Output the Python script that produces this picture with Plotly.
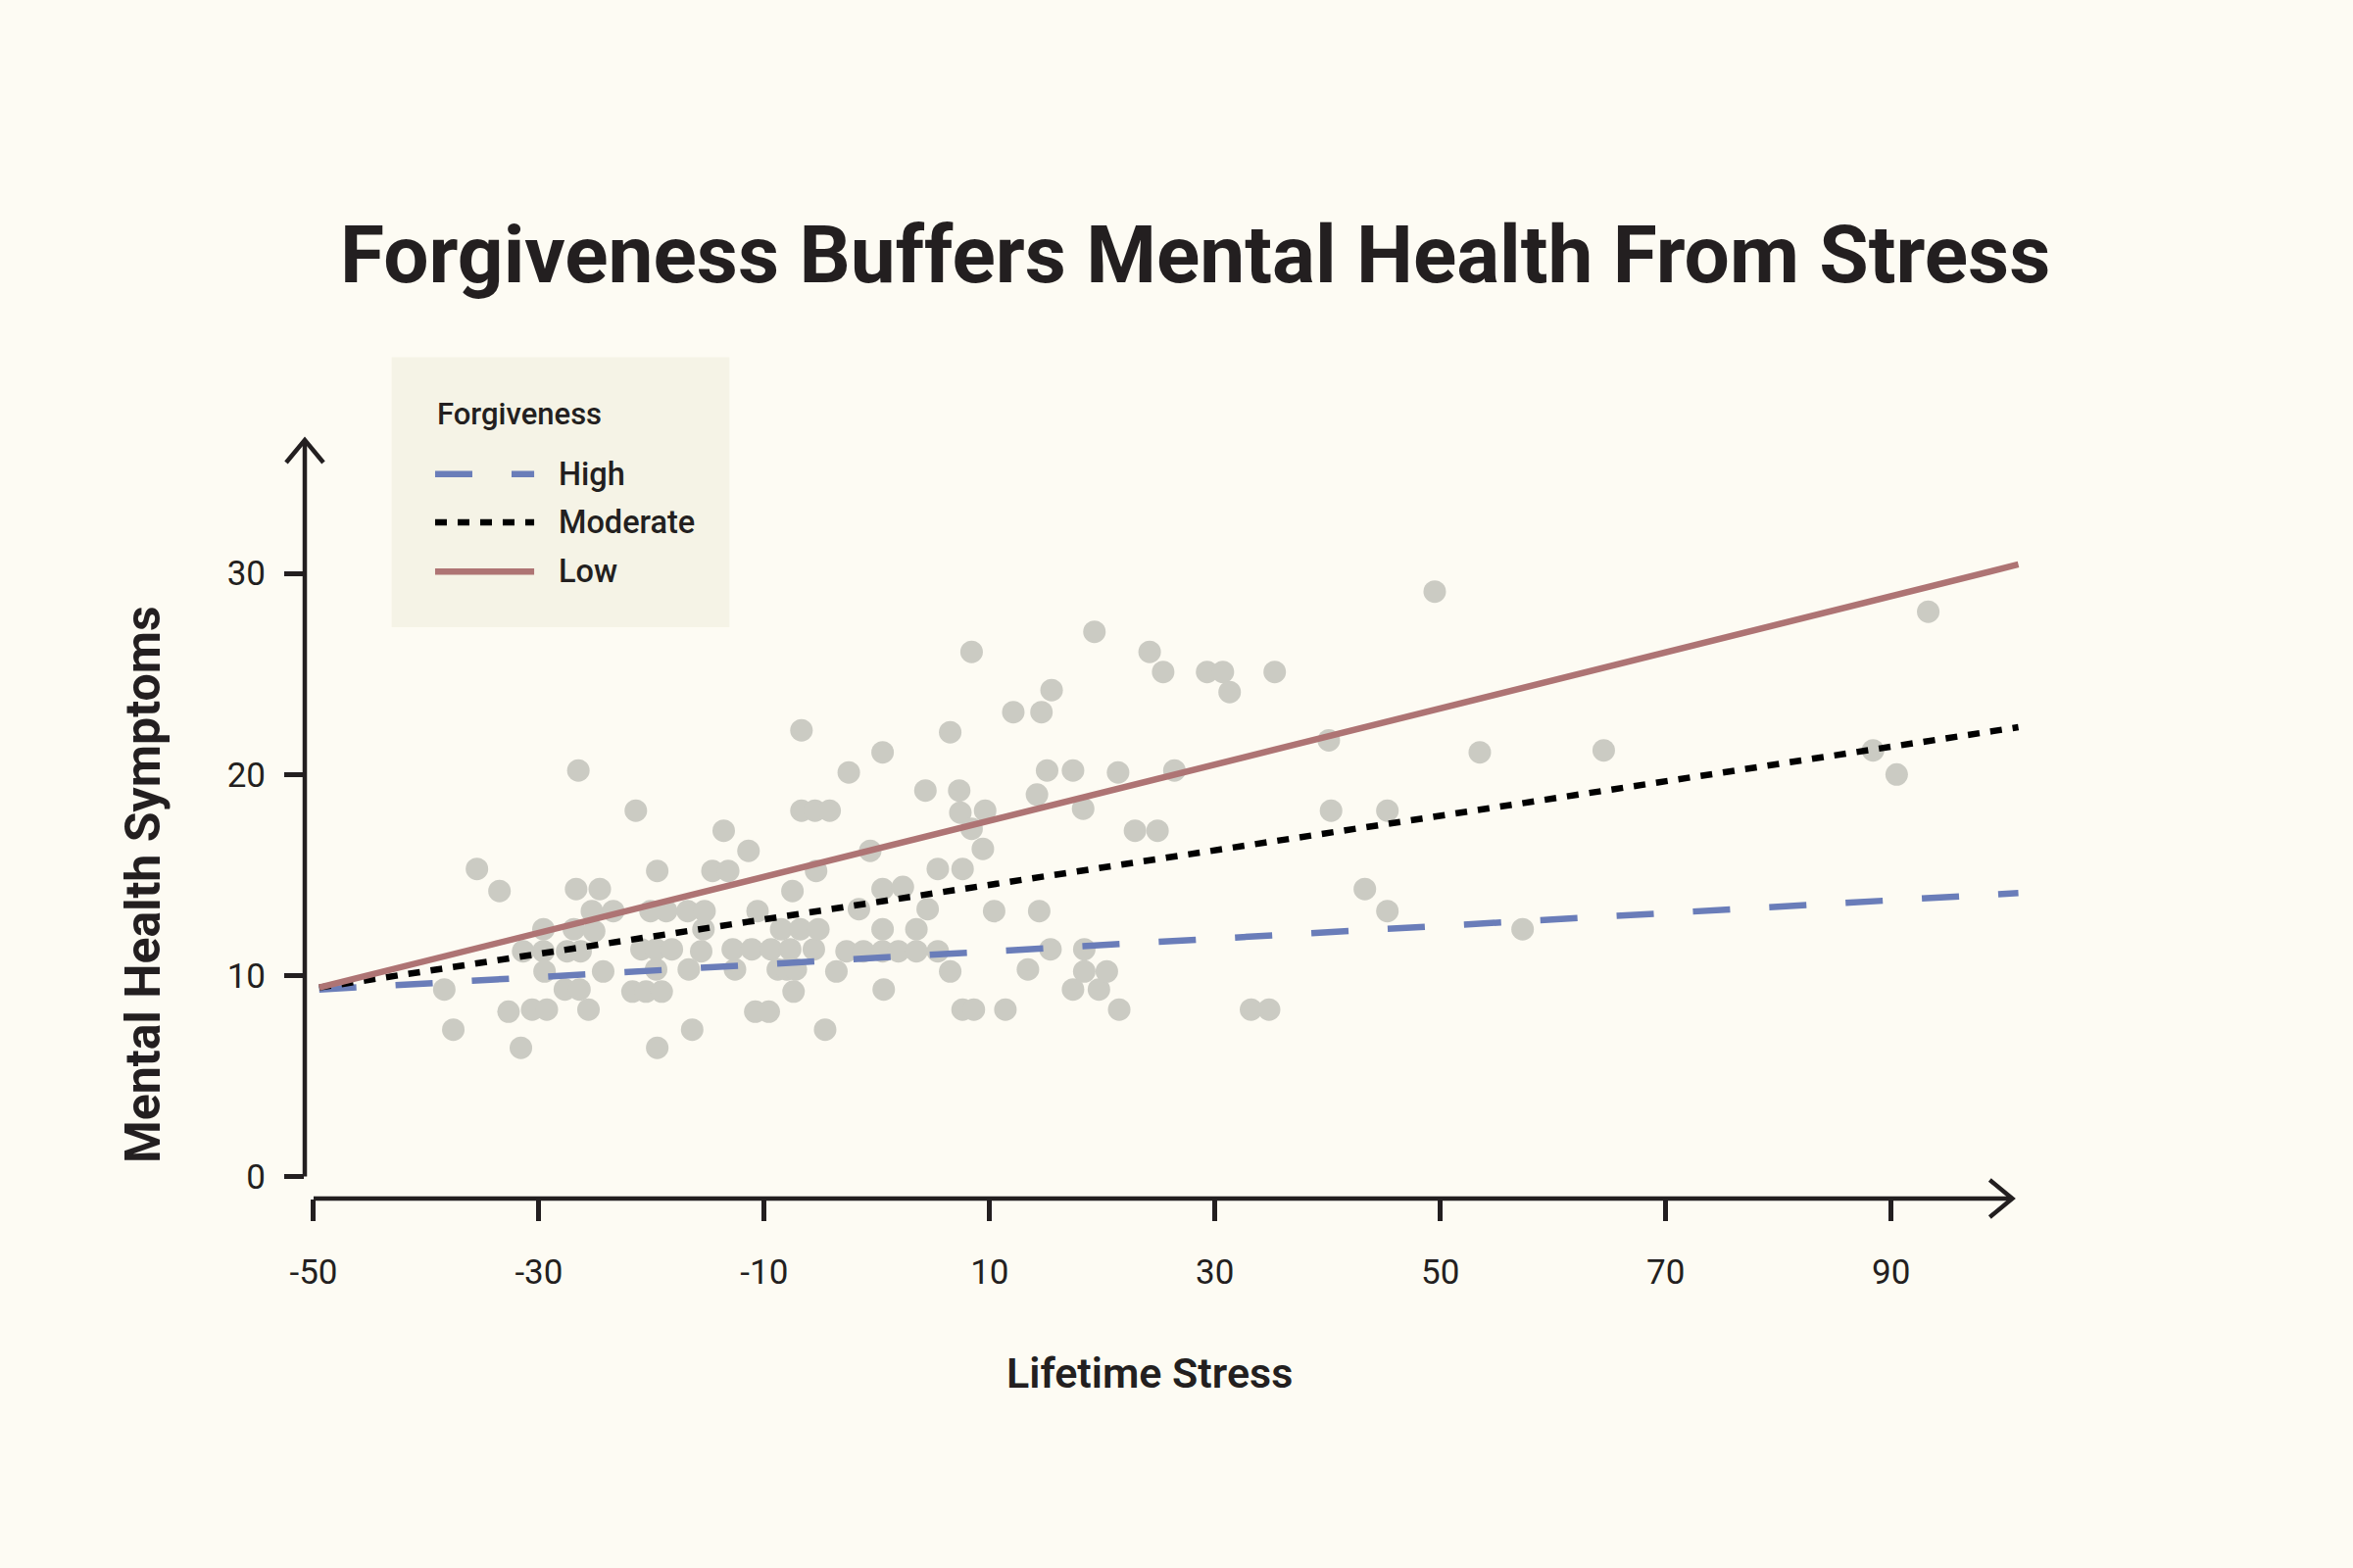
import plotly.graph_objects as go

# Data: lifetime stress vs. mental health symptoms
stress = [
    -38.4, -37.6, -35.5, -33.5, -32.7, -31.6, -31.4, -30.6, -29.6, -29.6,
    -29.5, -29.3, -27.7, -27.5, -26.9, -26.7, -26.5, -26.4, -26.3, -25.6,
    -25.3, -25.1, -24.6, -24.3, -23.4,
    -21.7, -21.4, -20.9, -20.5, -20.1, -19.6, -19.6, -19.5, -19.5, -19.1,
    -18.7, -18.2, -16.8, -16.7, -16.4, -15.6, -15.4, -15.3, -14.6, -13.6,
    -13.2, -12.8, -12.6, -11.4, -11.1, -10.8, -10.6, -9.6, -9.4, -8.8,
    -8.5, -8.0, -7.7, -7.5, -7.4, -7.2, -6.8, -6.7, -5.6, -5.5,
    -5.4, -5.2, -4.6, -4.2, -6.7,
    -3.6, -2.7, -2.5, -1.6, -1.2, -0.6, 0.5, 0.5, 0.5, 0.5,
    0.6, 1.9, 2.3, 3.5, 3.5, 4.3, 4.5, 5.4, 5.4, 6.5,
    6.5, 7.3, 7.4, 7.6, 7.6, 8.4, 8.6, 9.4, 9.6, 10.4,
    11.4, 12.1, 13.4, 8.4,
    14.2, 14.4, 14.6, 15.1, 15.4, 15.5, 17.4, 17.4, 18.3, 18.4,
    18.4, 19.3, 19.7, 20.4, 21.4, 21.5, 22.9, 24.2, 24.9, 25.4,
    26.4, 29.3, 30.7, 31.3, 33.2, 34.8, 35.3,
    40.1, 40.3, 43.3, 45.3, 45.3, 49.5, 53.5, 57.3, 64.5, 88.4,
    90.5, 93.3,
]
symptoms = [
    9.3, 7.3, 15.3, 14.2, 8.2, 6.4, 11.2, 8.3, 12.3, 11.2,
    10.2, 8.3, 9.3, 11.2, 12.3, 14.3, 20.2, 9.3, 11.2, 8.3,
    13.2, 12.2, 14.3, 10.2, 13.2,
    9.2, 18.2, 11.3, 9.2, 13.2, 11.3, 10.3, 15.2, 6.4, 9.2,
    13.2, 11.3, 13.2, 10.3, 7.3, 11.2, 12.3, 13.2, 15.2, 17.2,
    15.2, 11.3, 10.3, 16.2, 11.3, 8.2, 13.2, 8.2, 11.3, 10.3,
    12.3, 10.3, 11.3, 14.2, 9.2, 10.3, 12.3, 18.2, 11.3, 18.2,
    15.2, 12.3, 7.3, 18.2, 22.2,
    10.2, 11.2, 20.1, 13.3, 11.2, 16.2, 21.1, 14.3, 12.3, 11.2,
    9.3, 11.2, 14.4, 12.3, 11.2, 19.2, 13.3, 15.3, 11.2, 22.1,
    10.2, 19.2, 18.1, 15.3, 8.3, 17.3, 8.3, 16.3, 18.2, 13.2,
    8.3, 23.1, 10.3, 26.1,
    19.0, 13.2, 23.1, 20.2, 11.3, 24.2, 20.2, 9.3, 18.3, 11.3,
    10.2, 27.1, 9.3, 10.2, 20.1, 8.3, 17.2, 26.1, 17.2, 25.1,
    20.2, 25.1, 25.1, 24.1, 8.3, 8.3, 25.1,
    21.7, 18.2, 14.3, 13.2, 18.2, 29.1, 21.1, 12.3, 21.2, 21.2,
    20.0, 28.1,
]

# Fitted lines for each forgiveness level (end points)
fit_stress = [-49.5, 101.3]
high_fit = [9.3, 14.1]
moderate_fit = [9.4, 22.35]
low_fit = [9.4, 30.45]

levels = ['High', 'Moderate', 'Low']
x_ticks = [-50, -30, -10, 10, 30, 50, 70, 90]
y_ticks = [0, 10, 20, 30]
x_range = [-50.78, 101.6]
y_range = [-1.1, 36.64]
x_axis_end = 100.76

FONT = 'Roboto'
BG = '#FDFBF3'
INK = '#231F20'
POINT = '#CBCBC3'
LEGEND_BG = '#F5F3E6'
LINE_STYLES = {
    'High': dict(color='#6A7DB9', width=6.5, dash='38px,40px'),
    'Moderate': dict(color='#000000', width=6.5, dash='12px,11px'),
    'Low': dict(color='#AE7474', width=6.5, dash='solid'),
}


def add_legend(fig):
    # Hand-built legend so the line samples are as long as in the original
    fig.add_shape(type='rect', xref='paper', yref='paper',
                  x0=0.0506, x1=0.2473, y0=0.7532, y1=1.1093,
                  fillcolor=LEGEND_BG, line=dict(width=0))
    fig.add_annotation(text='Forgiveness', xref='paper', yref='paper',
                       x=0.0759, y=1.0341, xanchor='left', yanchor='middle',
                       showarrow=False,
                       font=dict(family=FONT, size=31, color=INK, weight=500))
    rows = [0.955, 0.8916, 0.8264]
    for name, row in zip(levels, rows):
        fig.add_shape(type='line', xref='paper', yref='paper',
                      x0=0.0759, x1=0.1336, y0=row, y1=row,
                      line=LINE_STYLES[name])
        fig.add_annotation(text=name, xref='paper', yref='paper',
                           x=0.1467, y=row, xanchor='left', yanchor='middle',
                           showarrow=False,
                           font=dict(family=FONT, size=32.5, color=INK, weight=500))


def build_figure():
    fig = go.Figure()

    # Raw observations
    fig.add_trace(go.Scatter(
        x=stress, y=symptoms, mode='markers',
        marker=dict(size=23, color=POINT, line=dict(width=0)),
        showlegend=False, hoverinfo='skip'
    ))

    # Regression lines
    for name, fit in zip(levels, [high_fit, moderate_fit, low_fit]):
        fig.add_trace(go.Scatter(
            x=fit_stress, y=fit, mode='lines', name=name,
            line=LINE_STYLES[name], showlegend=False
        ))

    axis_line = dict(color=INK, width=4.5)
    # Offset axis lines (x starts at first tick, y starts at zero)
    fig.add_shape(type='line', xref='x', yref='paper',
                  x0=x_ticks[0], x1=x_axis_end, y0=0, y1=0, line=axis_line)
    fig.add_shape(type='line', xref='paper', yref='y',
                  x0=0, x1=0, y0=y_ticks[0], y1=y_range[1], line=axis_line)
    # Open arrow heads
    arrow = dict(type='path', xsizemode='pixel', ysizemode='pixel', line=axis_line)
    fig.add_shape(**arrow, xref='x', yref='paper', xanchor=x_axis_end, yanchor=0,
                  path='M -23 19 L 0 0 L -23 -19')
    fig.add_shape(**arrow, xref='paper', yref='paper', xanchor=0, yanchor=1,
                  path='M -19 -23 L 0 0 L 19 -23')

    add_legend(fig)

    # Axis titles
    fig.add_annotation(text='Lifetime Stress', xref='paper', yref='paper',
                       x=0.4919, y=-0.230, xanchor='center', yanchor='middle',
                       showarrow=False,
                       font=dict(family=FONT, size=43, color=INK, weight=600))
    fig.add_annotation(text='Mental Health Symptoms', xref='paper', yref='paper',
                       x=-0.0945, y=0.414, xanchor='center', yanchor='middle',
                       textangle=-90, showarrow=False,
                       font=dict(family=FONT, size=50, color=INK, weight=700))

    tick_font = dict(family=FONT, size=35, color=INK)
    fig.update_layout(
        title=dict(
            text='Forgiveness Buffers Mental Health From Stress',
            x=0.508, xanchor='center', y=0.838, yanchor='middle', yref='container',
            font=dict(family=FONT, size=82, color=INK, weight=700)
        ),
        xaxis=dict(
            range=x_range, tickvals=x_ticks, ticktext=[str(v) for v in x_ticks],
            ticks='outside', ticklen=22, tickwidth=4.5, tickcolor=INK,
            showline=False, showgrid=False, zeroline=False,
            tickfont=tick_font, ticklabelstandoff=22
        ),
        yaxis=dict(
            range=y_range, tickvals=y_ticks, ticktext=[str(v) for v in y_ticks],
            ticks='outside', ticklen=20, tickwidth=4.5, tickcolor=INK,
            showline=False, showgrid=False, zeroline=False,
            tickfont=tick_font, ticklabelstandoff=12
        ),
        showlegend=False,
        paper_bgcolor=BG,
        plot_bgcolor=BG,
        width=2401,
        height=1600,
        margin=dict(l=311, r=338, t=449, b=377)
    )
    return fig


if __name__ == "__main__":
    fig = build_figure()
    fig.write_html("out.html", config={'displayModeBar': False},
                   post_script="document.body.style.margin='0';")
